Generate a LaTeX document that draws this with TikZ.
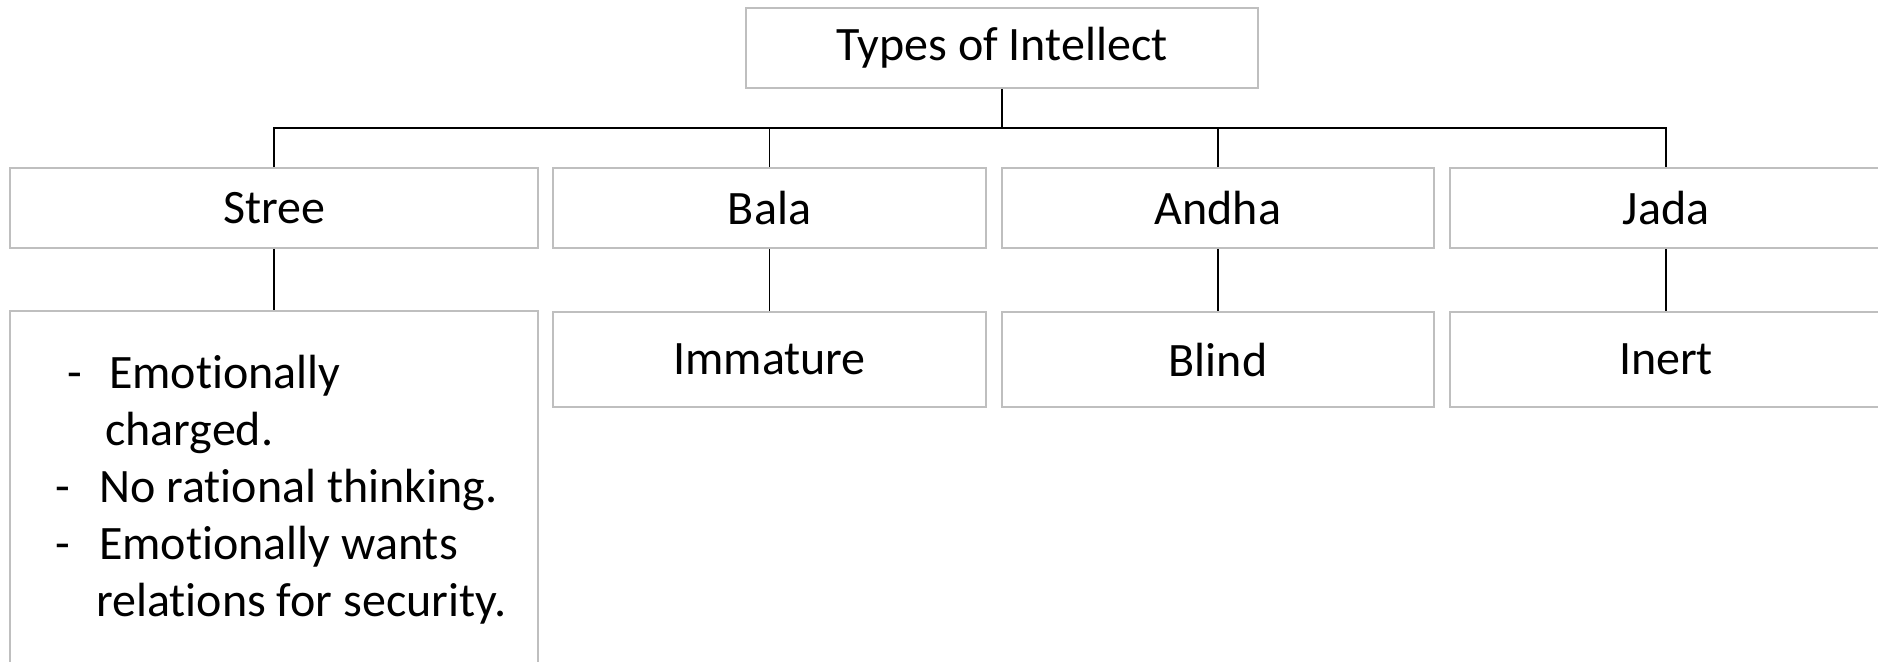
\documentclass[tikz,border=0pt]{standalone}
\usepackage{fontspec}
\setmainfont{Carlito}[Ligatures=NoCommon]
\begin{document}
\begin{tikzpicture}[x=1pt,y=-1pt,
  box/.style={draw=black!25, line width=1.6pt, inner sep=0pt, align=center,
    font=\fontsize{48}{57}\selectfont},
  link/.style={draw=black, line width=1.7pt},
  item/.style={inner sep=0pt, anchor=base west, font=\fontsize{48}{57}\selectfont}]
\useasboundingbox (0,0) rectangle (1878,661);
% root
\node[box, minimum width=512pt, minimum height=80pt] (root) at (1002,48) {Types of Intellect};
% second row
\node[box, minimum width=528pt, minimum height=80pt] (stree) at (274,208) {Stree};
\node[box, minimum width=433pt, minimum height=80pt] (bala) at (769.5,208) {Bala};
\node[box, minimum width=432pt, minimum height=80pt] (andha) at (1218,208) {Andha};
\node[box, minimum width=432pt, minimum height=80pt] (jada) at (1666,208) {Jada};
% third row
\node[box, minimum width=528pt, minimum height=400pt] (streed) at (274,511) {};
\node[box, minimum width=433pt, minimum height=95pt] (balad) at (769.5,359.5) {Immature};
\node[box, minimum width=432pt, minimum height=95pt] (andhad) at (1218,359.5) {Blind};
\node[box, minimum width=432pt, minimum height=95pt] (jadad) at (1666,359.5) {Inert};
% list inside the Stree box
\node[item] (d1) at (67,388) {-};
\node[item] (t1) at (109,388) {Emotionally};
\node[item] (t1b) at (105,445) {charged.};
\node[item] (d2) at (55,502) {-};
\node[item] (t2) at (99,502) {No rational thinking.};
\node[item] (d3) at (55,559) {-};
\node[item] (t3) at (99,559) {Emotionally wants};
\node[item] (t3b) at (96,616) {relations for security.};
% connectors
\coordinate (bar) at (0,128);
\draw[link] (root.south) -- (root.south |- bar);
\draw[link] (stree.north) -- (stree.north |- bar) -- (jada.north |- bar) -- (jada.north);
\draw[link] (bala.north) -- (bala.north |- bar);
\draw[link] (andha.north) -- (andha.north |- bar);
\draw[link] (stree.south) -- (streed.north);
\draw[link] (bala.south) -- (balad.north);
\draw[link] (andha.south) -- (andhad.north);
\draw[link] (jada.south) -- (jadad.north);
\end{tikzpicture}
\end{document}
